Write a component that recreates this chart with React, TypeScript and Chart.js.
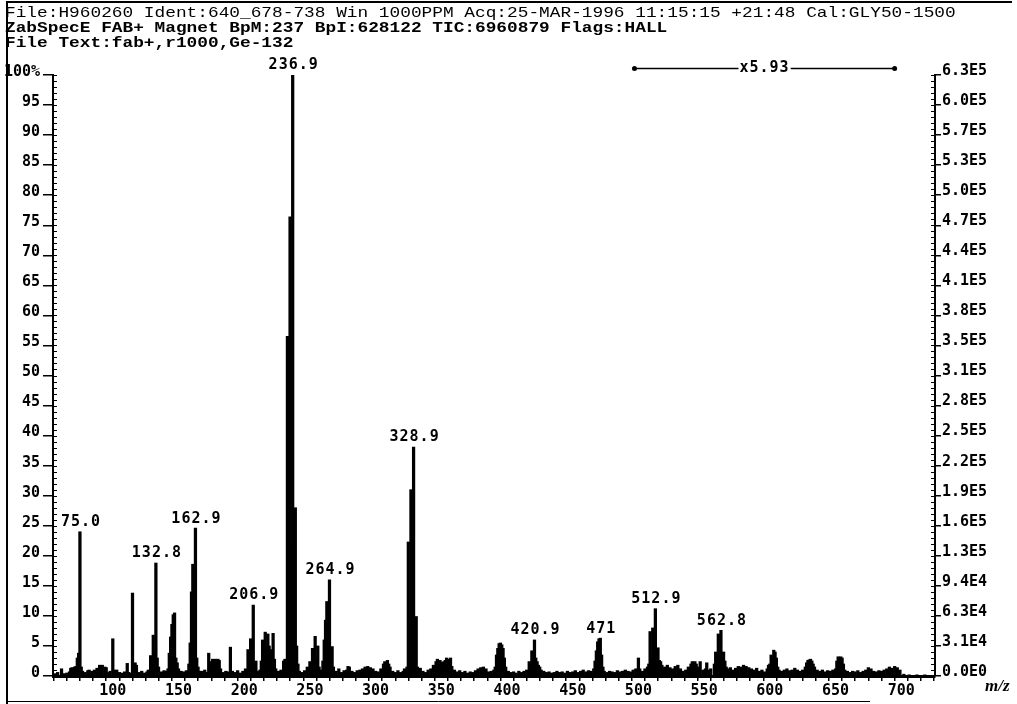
import { useEffect, useRef } from "react";
import { Chart, registerables } from "chart.js";

Chart.register(...registerables);

// ---------- header text ----------
const titleLines = [
  "File:H960260 Ident:640_678-738 Win 1000PPM Acq:25-MAR-1996 11:15:15 +21:48 Cal:GLY50-1500",
  "ZabSpecE FAB+ Magnet BpM:237 BpI:628122 TIC:6960879 Flags:HALL",
  "File Text:fab+,r1000,Ge-132",
];

// ---------- spectrum: [m/z, relative abundance %] ----------
const spectrum55to128: [number, number][] = [
  [56, 0.4], [58, 0.6], [61, 1.2], [63, 0.4], [65, 0.5], [67, 0.7], [68, 1.3], [69, 1.4], [70, 1.3],
  [71, 1.5], [72, 1.6], [73, 3.0], [74, 3.8], [75, 24.0], [76, 1.5], [77, 0.8], [79, 0.6], [81, 0.9],
  [82, 1.0], [84, 0.8], [86, 1.0], [88, 1.3], [89, 1.2], [90, 1.8], [91, 1.6], [92, 1.8], [94, 1.5],
  [95, 1.4], [97, 0.6], [98, 0.8], [100, 6.2], [101, 1.0], [102, 0.7], [103, 1.0], [105, 0.6], [107, 0.5],
  [109, 0.7], [111, 2.1], [112, 0.6], [113, 0.5], [115, 13.8], [116, 1.5], [117, 2.2], [118, 1.8],
  [120, 0.6], [122, 0.8], [124, 0.5], [126, 0.7], [127, 1.0],
];

const spectrum128to200: [number, number][] = [
  [128.8, 3.4], [129.8, 2.5], [130.8, 6.8], [131.8, 4.0], [132.8, 18.8], [133.8, 3.0], [134.8, 1.5],
  [137, 0.7], [139, 0.9], [141, 0.8], [142, 1.2], [143, 3.8], [144, 6.5], [145, 8.6], [146, 10.2],
  [147, 10.5], [148, 3.0], [149, 2.2], [150, 1.2], [152, 0.8], [154, 0.7], [156, 0.9], [157.9, 2.0],
  [158.9, 5.5], [159.9, 14.0], [160.9, 18.6], [161.9, 8.0], [162.9, 24.6], [163.9, 3.0], [164.9, 1.5],
  [166, 0.8], [168, 0.8], [170, 1.0], [172, 0.6], [173, 3.8], [174, 1.0], [175, 2.4], [176, 2.8],
  [177, 2.6], [178, 2.8], [179, 2.5], [180, 2.8], [181, 2.6], [182, 1.2], [184, 0.6], [186, 0.8],
  [188, 0.7], [189.5, 4.8], [191, 0.8], [193, 0.6], [195, 0.9], [197, 0.5], [199, 0.8],
];

const spectrum200to270: [number, number][] = [
  [201, 1.2], [202.9, 4.4], [203.9, 2.0], [204.9, 6.2], [205.9, 5.8], [206.9, 11.8], [207.9, 2.0],
  [208.9, 2.5], [209.9, 0.8], [211, 0.6], [212, 1.0], [213, 2.5], [214, 6.0], [215, 4.0], [216, 7.3],
  [217, 5.0], [218, 7.0], [219, 5.0], [220, 4.4], [221, 3.0], [222, 7.1], [223, 2.8], [224, 1.2],
  [226, 0.8], [228, 1.0], [230, 2.5], [231, 2.8], [232.9, 56.5], [233.9, 15.0], [234.9, 76.4],
  [235.9, 22.0], [236.9, 100], [237.9, 10.0], [238.9, 28.0], [239.9, 5.0], [240.9, 2.0], [242, 0.8],
  [244, 0.6], [246, 0.9], [248, 1.5], [249, 1.2], [250, 2.4], [251, 2.0], [252, 4.6], [253, 3.0],
  [254, 6.6], [255, 2.5], [256, 5.0], [257, 1.5], [258, 1.0], [259.9, 2.5], [260.9, 6.0], [261.9, 9.3],
  [262.9, 12.4], [263.9, 8.0], [264.9, 16.0], [265.9, 3.0], [266.9, 4.9], [267.9, 1.5],
];

const spectrum270to400: [number, number][] = [
  [270, 0.8], [272, 1.2], [274, 0.6], [276, 0.9], [278, 1.0], [279, 1.6], [280, 1.5], [282, 0.8],
  [284, 0.6], [286, 0.9], [288, 1.0], [290, 1.2], [292, 1.5], [294, 1.6], [296, 1.4], [298, 1.2],
  [300, 0.8], [302, 0.7], [304, 1.2], [306, 2.0], [307, 2.4], [308, 2.2], [309, 2.6], [310, 2.0],
  [311, 1.5], [313, 0.8], [315, 0.6], [317, 0.9], [319, 0.6], [321, 0.8], [322, 1.2], [323.9, 1.5],
  [324.9, 22.3], [325.9, 4.0], [326.9, 31.0], [327.9, 8.5], [328.9, 38.1], [329.9, 3.5], [330.9, 9.9],
  [331.9, 1.5], [333, 1.0], [334, 1.3], [336, 0.8], [338, 0.6], [340, 1.0], [342, 1.2], [344, 1.8],
  [346, 2.4], [347, 2.8], [348, 2.2], [349, 2.6], [350, 2.3], [351, 2.0], [352, 2.4], [353, 2.6],
  [354, 3.0], [355, 2.2], [356, 2.8], [357, 3.0], [358, 1.6], [360, 1.0], [362, 0.7], [364, 0.9],
  [366, 0.6], [368, 0.8], [370, 0.5], [372, 0.7], [374, 0.6], [376, 0.9], [378, 1.2], [380, 1.4],
  [382, 1.5], [384, 1.2], [386, 0.7], [388, 0.8], [390, 1.0], [391, 1.5], [392, 3.5], [393, 4.6],
  [394, 5.4], [395, 5.5], [396, 5.2], [397, 4.6], [398, 3.0], [399, 1.5],
];

const spectrum400to506: [number, number][] = [
  [401, 0.8], [403, 0.6], [405, 0.7], [407, 0.5], [409, 0.8], [411, 0.6], [413, 0.8], [415, 1.0],
  [416.9, 2.4], [417.9, 1.8], [418.9, 4.2], [419.9, 3.5], [420.9, 6.0], [421.9, 3.0], [422.9, 2.4],
  [423.9, 1.8], [424.9, 1.5], [426, 1.0], [428, 0.8], [430, 0.6], [432, 0.7], [434, 0.5], [436, 0.6],
  [438, 0.8], [440, 0.6], [442, 0.7], [444, 0.5], [446, 0.8], [448, 0.6], [450, 0.7], [452, 0.9],
  [454, 0.6], [456, 0.8], [458, 1.0], [460, 0.7], [462, 0.9], [464, 0.8], [466, 1.2], [467, 2.5],
  [468, 4.2], [469, 5.7], [470, 6.2], [471, 6.3], [472, 3.5], [473, 1.5], [474, 0.8], [476, 0.6],
  [478, 0.8], [480, 0.7], [482, 0.6], [484, 0.9], [486, 0.7], [488, 0.8], [490, 1.0], [492, 0.8],
  [494, 0.7], [496, 1.0], [498, 1.2], [500, 3.0], [501, 1.2], [503, 0.8], [505, 1.2],
];

const spectrum506to610: [number, number][] = [
  [506.9, 1.5], [507.9, 2.0], [508.9, 7.4], [509.9, 3.0], [510.9, 8.0], [511.9, 4.0], [512.9, 11.2],
  [513.9, 3.0], [514.9, 4.7], [515.9, 2.6], [516.9, 2.4], [517.9, 1.8], [518.9, 1.2], [520, 1.5],
  [521, 1.2], [522, 1.8], [524, 1.4], [526, 1.2], [528, 1.6], [530, 1.8], [532, 1.2], [534, 0.8],
  [536, 1.0], [538, 1.5], [540, 2.0], [541, 2.4], [542, 2.2], [543, 2.4], [544, 2.0], [545, 1.5],
  [547, 2.4], [549, 1.0], [551, 1.2], [552, 2.2], [554, 1.0], [555, 1.2], [557.8, 2.0], [558.8, 4.0],
  [559.8, 2.5], [560.8, 7.0], [561.8, 3.5], [562.8, 7.6], [563.8, 2.5], [564.8, 4.0], [565.8, 2.5],
  [566.8, 1.5], [568, 1.2], [570, 1.4], [572, 1.0], [574, 1.3], [576, 1.6], [578, 1.5], [580, 1.8],
  [582, 1.6], [584, 1.4], [586, 1.2], [588, 1.0], [590, 1.3], [592, 0.8], [594, 1.0], [596, 0.7],
  [598, 1.2], [599, 1.8], [600, 2.0], [601, 3.5], [602, 3.0], [603, 4.3], [604, 4.0], [605, 3.0],
  [606, 1.5], [607, 1.0], [609, 0.8],
];

const spectrum610to725: [number, number][] = [
  [611, 1.0], [613, 1.2], [615, 0.9], [617, 1.0], [619, 1.3], [621, 1.0], [623, 0.8], [625, 1.0],
  [627, 1.5], [628, 2.2], [629, 2.6], [630, 2.7], [631, 2.8], [632, 2.5], [633, 2.0], [634, 1.5],
  [636, 1.0], [638, 0.8], [640, 1.0], [642, 0.7], [644, 0.9], [646, 0.8], [648, 1.0], [650, 1.2],
  [651, 2.5], [652, 3.2], [653, 3.0], [654, 3.2], [655, 3.0], [656, 2.0], [657, 1.0], [659, 0.8],
  [661, 0.6], [663, 0.8], [665, 0.7], [667, 0.9], [669, 0.6], [671, 0.8], [673, 1.0], [675, 1.4],
  [677, 1.2], [679, 0.8], [681, 0.7], [683, 0.9], [685, 0.8], [687, 1.0], [689, 1.2], [691, 1.5],
  [693, 1.3], [695, 1.6], [697, 1.4], [699, 1.0], [702, 0.3], [706, 0.2], [712, 0.2], [718, 0.2],
];

// ---------- annotations ----------
const peakLabelMz = [75, 132.8, 162.9, 206.9, 236.9, 264.9, 328.9, 420.9, 471, 512.9, 562.8];
const peakLabelText = ["75.0", "132.8", "162.9", "206.9", "236.9", "264.9", "328.9", "420.9", "471", "512.9", "562.8"];

const magnifyRange = [497, 695];
const magnifyText = "x5.93";

// ---------- axes ----------
const xRange = [54.5, 725.7];
const xMinorTicks = [60, 70, 80, 90, 100, 110, 120, 130, 140, 150, 160, 170, 180, 190, 200, 210, 220, 230, 240, 250, 260, 270, 280, 290, 300, 310, 320, 330, 340, 350, 360, 370, 380, 390, 400, 410, 420, 430, 440, 450, 460, 470, 480, 490, 500, 510, 520, 530, 540, 550, 560, 570, 580, 590, 600, 610, 620, 630, 640, 650, 660, 670, 680, 690, 700, 710, 720];
const xLabelTicks = [100, 150, 200, 250, 300, 350, 400, 450, 500, 550, 600, 650, 700];
const leftTickValues = [0, 5, 10, 15, 20, 25, 30, 35, 40, 45, 50, 55, 60, 65, 70, 75, 80, 85, 90, 95, 100];
const rightTickLabels = ["0.0E0", "3.1E4", "6.3E4", "9.4E4", "1.3E5", "1.6E5", "1.9E5", "2.2E5", "2.5E5", "2.8E5", "3.1E5", "3.5E5", "3.8E5", "4.1E5", "4.4E5", "4.7E5", "5.0E5", "5.3E5", "5.7E5", "6.0E5", "6.3E5"];
const xAxisTitle = "m/z";

const allSpectrum: [number, number][] = [
  ...spectrum55to128, ...spectrum128to200, ...spectrum200to270, ...spectrum270to400,
  ...spectrum400to506, ...spectrum506to610, ...spectrum610to725,
];

const TICK_FONT = { family: '"DejaVu Sans Mono", monospace', size: 15, weight: "bold" as const };

const decorPlugin = {
  id: "decor",
  afterDraw(chart: any) {
    const ctx: CanvasRenderingContext2D = chart.ctx;
    const xs = chart.scales.x;
    const ys = chart.scales.y;
    const area = chart.chartArea;
    ctx.save();
    ctx.fillStyle = "#000";
    ctx.strokeStyle = "#000";

    // page frame
    ctx.lineWidth = 2;
    ctx.beginPath();
    ctx.moveTo(6, 2);
    ctx.lineTo(1012, 2);
    ctx.moveTo(7, 2);
    ctx.lineTo(7, 704);
    ctx.stroke();
    ctx.lineWidth = 1;
    ctx.beginPath();
    ctx.moveTo(7, 701.5);
    ctx.lineTo(870, 701.5);
    ctx.stroke();

    // header lines (monospace, horizontally stretched like the printout)
    ctx.textAlign = "left";
    ctx.textBaseline = "alphabetic";
    const titleBase = [17, 32, 47];
    const sx = 10.68 / 9.0;
    titleLines.forEach((t, i) => {
      ctx.save();
      ctx.translate(5, titleBase[i]);
      ctx.scale(sx, 1);
      ctx.font = `${i === 0 ? "normal" : "bold"} 15px "Liberation Mono", monospace`;
      ctx.fillText(t, 0, 0);
      ctx.restore();
    });

    // minor ticks (inside) on both y axes
    ctx.lineWidth = 1;
    ctx.beginPath();
    for (let v = 0; v <= 100; v++) {
      const py = Math.round(ys.getPixelForValue(v)) + 0.5;
      ctx.moveTo(area.left, py);
      ctx.lineTo(area.left + 4, py);
      ctx.moveTo(area.right, py);
      ctx.lineTo(area.right - 4, py);
    }
    ctx.stroke();

    // peak labels
    const lookup = new Map<number, number>(allSpectrum.map((p) => [p[0], p[1]]));
    ctx.font = 'bold 15px "DejaVu Sans Mono", monospace';
    (ctx as any).letterSpacing = "1px";
    ctx.textAlign = "center";
    ctx.textBaseline = "bottom";
    peakLabelMz.forEach((m, i) => {
      const ab = lookup.get(m) ?? 0;
      ctx.fillText(peakLabelText[i], xs.getPixelForValue(m) + 1, ys.getPixelForValue(ab) - 2);
    });

    // magnification marker
    const mx1 = xs.getPixelForValue(magnifyRange[0]);
    const mx2 = xs.getPixelForValue(magnifyRange[1]);
    const my = 68.5;
    ctx.lineWidth = 1.5;
    ctx.beginPath();
    ctx.moveTo(mx1, my);
    ctx.lineTo(mx2, my);
    ctx.stroke();
    [mx1, mx2].forEach((px) => {
      ctx.beginPath();
      ctx.arc(px, my, 2.5, 0, Math.PI * 2);
      ctx.fill();
    });
    const mid = (mx1 + mx2) / 2;
    ctx.textBaseline = "middle";
    const tw = ctx.measureText(magnifyText).width;
    ctx.fillStyle = "#fff";
    ctx.fillRect(mid - tw / 2 - 1, my - 7, tw + 2, 14);
    ctx.fillStyle = "#000";
    ctx.fillText(magnifyText, mid, my);
    (ctx as any).letterSpacing = "0px";

    // x axis title
    ctx.font = 'bold italic 17px "Liberation Serif", serif';
    ctx.textAlign = "left";
    ctx.textBaseline = "middle";
    ctx.fillText(xAxisTitle, 985, 687);

    ctx.restore();
  },
};

export default function App() {
  const canvasRef = useRef<HTMLCanvasElement | null>(null);

  useEffect(() => {
    if (!canvasRef.current) return;
    const chart = new Chart(canvasRef.current, {
      type: "bar",
      data: {
        datasets: [
          {
            data: allSpectrum.map((p) => ({ x: p[0], y: p[1] })),
            backgroundColor: "#000",
            borderWidth: 0,
            barThickness: 2.6,
            grouped: false,
            xAxisID: "x",
            yAxisID: "y",
          } as any,
        ],
      },
      options: {
        animation: false,
        responsive: false,
        maintainAspectRatio: false,
        layout: { padding: { top: 75, left: 0, right: 0, bottom: 0 } },
        plugins: { legend: { display: false }, tooltip: { enabled: false } },
        scales: {
          x: {
            type: "linear",
            min: xRange[0],
            max: xRange[1],
            offset: false,
            afterBuildTicks: (s: any) => {
              s.ticks = xMinorTicks.map((v) => ({ value: v }));
            },
            afterFit: (s: any) => {
              s.height = 28;
            },
            grid: { display: true, drawOnChartArea: false, drawTicks: true, tickLength: 5, color: "#000", lineWidth: 1.5 },
            border: { display: true, color: "#000", width: 3 },
            ticks: {
              autoSkip: false,
              maxRotation: 0,
              minRotation: 0,
              padding: 1,
              color: "#000",
              font: TICK_FONT,
              callback: (v: any) => (xLabelTicks.includes(Number(v)) ? String(v) : ""),
            },
          },
          y: {
            type: "linear",
            position: "left",
            min: 0,
            max: 100,
            afterBuildTicks: (s: any) => {
              s.ticks = leftTickValues.map((v) => ({ value: v }));
            },
            afterFit: (s: any) => {
              s.width = 53;
            },
            grid: { display: true, drawOnChartArea: false, drawTicks: true, tickLength: 10, color: "#000", lineWidth: 1.5 },
            border: { display: true, color: "#000", width: 2 },
            ticks: {
              autoSkip: false,
              padding: 3,
              labelOffset: -3,
              color: "#000",
              font: TICK_FONT,
              callback: (v: any) => (Number(v) === 100 ? "100%" : String(v)),
            },
          },
          y2: {
            type: "linear",
            position: "right",
            min: 0,
            max: 100,
            afterBuildTicks: (s: any) => {
              s.ticks = leftTickValues.map((v) => ({ value: v }));
            },
            afterFit: (s: any) => {
              s.width = 82;
            },
            grid: { display: true, drawOnChartArea: false, drawTicks: true, tickLength: 6, color: "#000", lineWidth: 1.5 },
            border: { display: true, color: "#000", width: 2 },
            ticks: {
              autoSkip: false,
              padding: 1,
              labelOffset: -4,
              color: "#000",
              font: TICK_FONT,
              callback: (_v: any, i: number) => rightTickLabels[i],
            },
          },
        },
      },
      plugins: [decorPlugin],
    });
    return () => chart.destroy();
  }, []);

  return (
    <div style={{ position: "absolute", left: 0, top: 0, width: 1017, height: 704, background: "#fff" }}>
      <canvas ref={canvasRef} width={1017} height={704} style={{ width: 1017, height: 704, display: "block" }} />
    </div>
  );
}
